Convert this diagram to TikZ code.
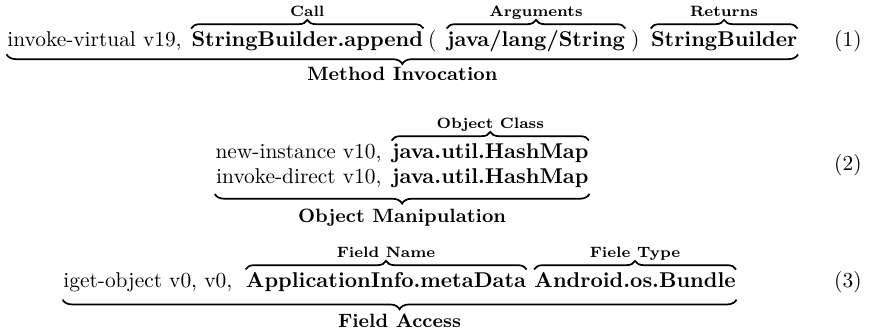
\documentclass[tikz,border=0pt]{standalone}
\usetikzlibrary{positioning,fit,decorations.pathreplacing}

\begin{document}
\begin{tikzpicture}[x=0.4673pt,y=-0.4673pt,
  w/.style={inner sep=0pt,text height=7pt,text depth=2.5pt},
  kw/.style={w,font=\bfseries},
  lab/.style={inner sep=0pt,text height=5pt,text depth=1.5pt,font=\scriptsize\bfseries},
  grp/.style={inner sep=0pt,font=\small\bfseries},
  ob/.style={decorate,decoration={brace,amplitude=4pt,raise=1pt},line width=0.8pt},
  ub/.style={decorate,decoration={brace,amplitude=4.5pt,raise=#1,mirror},line width=0.8pt},
  ub/.default=2pt]
\useasboundingbox (0,0) rectangle (869,334);
% method invocation
\node[w,anchor=base west] (inv) at (7,46) {invoke-virtual v19,};
\node[kw,base right=4.2pt of inv] (call) {StringBuilder.append};
\node[w,base right=2pt of call] (lp) {(};
\node[kw,base right=4.5pt of lp] (args) {java/lang/String};
\node[w,base right=2.5pt of args] (rp) {)};
\node[kw,base right=5pt of rp] (ret) {StringBuilder};
\node[fit=(inv)(ret),inner sep=0pt] (row1) {};
\draw[ob] (call.north west) -- (call.north east);
\draw[ob] (args.north west) -- (args.north east);
\draw[ob] (ret.north west) -- (ret.north east);
\node[lab,above=5pt of call] (lcall) {Call};
\node[lab,above=5pt of args] (largs) {Arguments};
\node[lab,above=5pt of ret] (lret) {Returns};
\draw[ub=1pt] (row1.south west) -- (row1.south east);
\node[grp,below=7pt of row1] (linv) {Method Invocation};
\node[w,anchor=base east] (eq1) at (862,46) {(1)};
% object manipulation
\node[kw,anchor=base east] (hm1) at (589,158) {java.util.HashMap};
\node[w,base left=4.5pt of hm1] (ni) {new-instance v10,};
\node[kw,anchor=base east] (hm2) at (589,183) {java.util.HashMap};
\node[w,base left=4.5pt of hm2] (dir) {invoke-direct v10,};
\node[fit=(ni)(dir)(hm2),inner sep=0pt] (row2) {};
\draw[ob] (hm1.north west) -- (hm1.north east);
\node[lab,above=5pt of hm1] (lcls) {Object Class};
\draw[ub=2.2pt] (row2.south west) -- (row2.south east);
\node[grp,below=9pt of row2] (lobj) {Object Manipulation};
\node[w,anchor=base east] (eq2) at (862,170) {(2)};
% field access
\node[w,anchor=base west] (iget) at (63,287) {iget-object v0, v0,};
\node[kw,base right=6pt of iget] (fname) {ApplicationInfo.metaData};
\node[kw,base right=3.5pt of fname] (ftype) {Android.os.Bundle};
\node[fit=(iget)(ftype),inner sep=0pt] (row3) {};
\draw[ob] (fname.north west) -- (fname.north east);
\draw[ob] (ftype.north west) -- (ftype.north east);
\node[lab,above=5pt of fname] (lfname) {Field Name};
\node[lab,above=5pt of ftype] (lftype) {Fiele Type};
\draw[ub=3pt] (row3.south west) -- (row3.south east);
\node[grp,below=9.5pt of row3] (lacc) {Field Access};
\node[w,anchor=base east] (eq3) at (862,287) {(3)};
\end{tikzpicture}
\end{document}
